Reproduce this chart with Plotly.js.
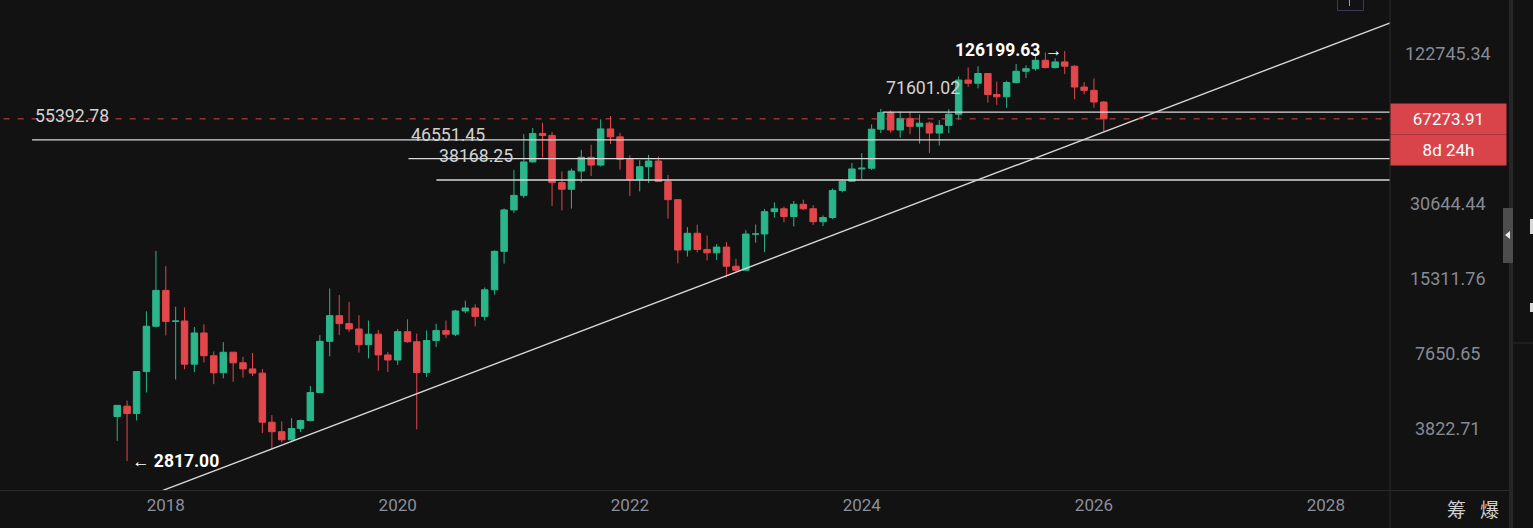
<!DOCTYPE html>
<html><head><meta charset="utf-8">
<script src="https://cdn.plot.ly/plotly-3.0.1.min.js"></script>
<style>html,body{margin:0;padding:0;background:#121212;overflow:hidden}#chart{width:1533px;height:528px}</style>
</head><body><div id="chart"></div>
<script>
// ---- data (BTC/USDT monthly) ----
const months = ['2017-08','2017-09','2017-10','2017-11','2017-12',
'2018-01','2018-02','2018-03','2018-04','2018-05','2018-06','2018-07','2018-08','2018-09','2018-10','2018-11','2018-12',
'2019-01','2019-02','2019-03','2019-04','2019-05','2019-06','2019-07','2019-08','2019-09','2019-10','2019-11','2019-12',
'2020-01','2020-02','2020-03','2020-04','2020-05','2020-06','2020-07','2020-08','2020-09','2020-10','2020-11','2020-12',
'2021-01','2021-02','2021-03','2021-04','2021-05','2021-06','2021-07','2021-08','2021-09','2021-10','2021-11','2021-12',
'2022-01','2022-02','2022-03','2022-04','2022-05','2022-06','2022-07','2022-08','2022-09','2022-10','2022-11','2022-12',
'2023-01','2023-02','2023-03','2023-04','2023-05','2023-06','2023-07','2023-08','2023-09','2023-10','2023-11','2023-12',
'2024-01','2024-02','2024-03','2024-04','2024-05','2024-06','2024-07','2024-08','2024-09','2024-10','2024-11','2024-12',
'2025-01','2025-02','2025-03','2025-04','2025-05','2025-06','2025-07','2025-08','2025-09','2025-10','2025-11','2025-12',
'2026-01','2026-02'];
const openP = [4261.48,4689.89,4378.49,6463.00,9837.00,
13715.65,10285.10,10325.64,6922.00,9246.01,7485.01,6391.08,7735.67,7011.21,6626.57,6369.52,4041.27,
3701.23,3434.10,3814.26,4102.44,5321.94,8555.00,10854.10,10080.53,9588.74,8289.97,9140.86,7540.63,
7195.24,9351.71,8523.61,6412.14,8620.00,9448.27,9138.08,11335.46,11649.51,10776.59,13791.00,19695.87,
28923.63,33092.97,45134.11,58739.46,57697.25,37253.82,35045.00,41461.84,47100.89,43820.01,61299.81,56950.56,
46216.93,38466.90,43160.00,45510.35,37630.80,31801.05,19942.21,23296.36,20048.44,19422.61,20490.74,17165.53,
16541.77,23125.13,23141.57,28465.36,29233.20,27210.36,30471.99,29232.26,25940.77,26962.57,34639.78,37723.97,
42283.58,42580.00,61130.99,71280.00,60672.01,67540.01,62772.01,64628.01,58974.00,63327.60,70215.20,96407.99,
93576.00,102429.56,84349.95,82550.01,94172.00,104591.88,107135.34,115764.07,108246.36,114048.94,109608.01,90360.01,
87648.21,78621.13];
const highP = [4745.42,4939.19,6470.00,11300.03,19798.68,
17176.24,11786.01,11710.00,9759.82,10020.00,7786.69,8491.77,7750.00,7410.00,7680.00,6615.15,4313.55,
4069.80,4198.00,4140.00,5656.74,9074.26,13970.00,13147.08,12325.00,10905.87,10370.00,9513.68,7750.00,
9578.00,10500.00,9188.00,9460.00,10067.00,10380.00,11444.00,12468.00,12050.85,14100.00,19863.16,29300.00,
41950.00,58352.80,61844.00,64854.00,59500.00,41330.00,42448.00,50500.00,52920.00,67000.00,69000.00,59053.55,
47990.00,45821.00,48189.84,47444.11,40023.77,31982.97,24668.00,25211.32,22799.00,21085.00,21480.65,18387.95,
23960.54,25250.00,29184.68,31000.00,29820.00,31431.94,31804.20,30244.00,27483.57,35280.00,38450.00,44700.00,
48969.48,63913.13,73777.00,72797.99,71979.00,71997.02,70079.99,65659.78,66498.00,73620.12,99588.01,108353.00,
109588.00,102500.01,95000.00,95758.04,111980.00,110530.17,123218.00,124474.00,117900.00,126199.63,110638.86,94588.99,
97939.54,79360.00];
const lowP = [3400.00,2817.00,4110.41,5325.01,9722.00,
9035.00,6000.01,6600.10,6430.00,7032.95,5750.00,6070.00,5880.00,6111.00,6205.00,3652.66,3156.26,
3349.92,3373.10,3689.12,4067.00,5316.20,7444.58,9060.00,9320.00,7710.00,7300.00,6515.00,6435.00,
6871.04,8445.00,3782.13,6150.11,8117.00,8833.00,8977.00,11093.00,9825.00,10374.00,13195.05,17572.33,
28130.00,32296.16,44950.53,47044.01,30000.00,28805.00,29278.00,37332.70,39600.00,43283.03,53256.64,42000.30,
32917.17,34322.28,37155.00,37578.20,26700.00,17622.00,18781.00,19520.00,18125.98,18190.00,15476.00,16256.30,
16499.01,21351.07,19549.09,26942.82,25811.46,24800.00,28861.90,25166.00,24901.00,26538.66,34055.15,37615.86,
38555.00,41884.28,59005.00,59191.60,56552.82,58402.00,53485.93,49000.00,52550.00,58946.00,66835.00,90500.00,
89256.69,78258.52,76606.00,74508.00,93377.00,98200.00,105100.19,107350.10,107255.00,102000.00,80600.00,84450.01,
74604.00,60000.00];
const closeP = [4724.89,4378.51,6463.00,9838.96,13716.36,
10285.10,10326.50,6923.91,9246.01,7485.01,6390.07,7730.93,7011.21,6626.57,6371.93,4041.32,3702.90,
3434.10,3813.69,4103.95,5320.81,8555.00,10854.10,10080.53,9587.47,8289.34,9140.85,7541.89,7195.23,
9352.89,8523.61,6410.44,8620.00,9448.27,9138.55,11335.46,11649.51,10776.59,13791.00,19695.87,28923.63,
33092.98,45135.66,58740.55,57694.27,37253.81,35045.00,41461.83,47100.89,43824.10,61299.80,56950.56,46216.93,
38466.90,43160.00,45510.34,37630.80,31801.04,19942.21,23293.32,20050.02,19422.61,20490.74,17163.64,16542.40,
23125.13,23141.57,28465.36,29233.21,27210.35,30472.00,29232.25,25940.78,26962.56,34639.77,37723.96,42283.58,
42580.00,61130.98,71280.01,60672.00,67540.01,62772.01,64628.00,58973.99,63327.59,70215.19,96407.99,93576.00,
102429.56,84349.94,82550.01,94172.00,104591.88,107135.33,115764.08,108246.35,114048.93,109608.01,90360.00,87648.22,
78621.12,67273.91];

const yearTicks = ['2018','2020','2022','2024','2026','2028'];
const priceTicks = [122745.34, 30644.44, 15311.76, 7650.65, 3822.71];
const levels = [55392.78, 46551.45, 38168.25, 71601.02];
const levelFrom = ['2016-11-06','2020-02-04','2020-05-02','2024-03-07'];
const lastPrice = 67273.91;
const countdown = '8d 24h';
const athMonth = '2025-10', athValue = 126199.63;
const lowMonth = '2017-09', lowValue = 2817.00;
const trendAnchorX = ['2018-12-01','2022-12-01'];
const trendAnchorY = [3156.26, 16256.30];
const sideLabels = ['筹','爆'];

// ---- layout geometry ----
const W = 1533, H = 528, ML = 0, MR = 143, MT = 0, MB = 38;
const PW = W - ML - MR, PH = H - MT - MB;
const xRange = ['2016-07-28','2028-07-21'];
const yRange = [Math.log10(2156), Math.log10(202470)];
const px = v => v / PW;             // pixel x -> paper
const py = v => (PH - v) / PH;      // pixel y -> paper

const GREEN = '#2bb58a', RED = '#e2474b';
const FONT = 'Roboto, "Noto Sans", sans-serif';

const dates = months.map(m => m + '-01');

// trend line through the two lows, extended
const t0 = Date.parse(trendAnchorX[0]), t1 = Date.parse(trendAnchorX[1]);
const l0 = Math.log10(trendAnchorY[0]), l1 = Math.log10(trendAnchorY[1]);
const trendAt = d => Math.pow(10, l0 + (Date.parse(d) - t0) / (t1 - t0) * (l1 - l0));
const trendX = ['2017-06-01', '2028-10-01'];
const trendY = trendX.map(trendAt);

const traces = [];
levels.forEach((lv, i) => {
  traces.push({type:'scatter', mode:'lines', x:[levelFrom[i], '2028-12-01'], y:[lv, lv],
    line:{color:'#d9d9d9', width:1.3}, hoverinfo:'skip', showlegend:false});
});
traces.push({type:'scatter', mode:'lines', x:trendX, y:trendY,
  line:{color:'#d6d6d6', width:1.4}, hoverinfo:'skip', showlegend:false});
traces.push({type:'scatter', mode:'lines', x:['2016-01-01','2028-12-01'], y:[lastPrice,lastPrice],
  line:{color:'#d9434a', width:1, dash:'6px,8px'}, hoverinfo:'skip', showlegend:false});
traces.push({type:'candlestick', x:dates, open:openP, high:highP, low:lowP, close:closeP,
  increasing:{line:{color:GREEN, width:1}, fillcolor:GREEN},
  decreasing:{line:{color:RED, width:1}, fillcolor:RED},
  whiskerwidth:0, hoverinfo:'skip', showlegend:false});

const annotations = [];
levels.forEach((lv, i) => annotations.push({
  x: levelFrom[i], y: Math.log10(lv), xref:'x', yref:'y', text: lv.toFixed(2),
  showarrow:false, xanchor:'left', yanchor:'middle', xshift:1, yshift:24,
  font:{family:FONT, size:17.7, color:'#d2d2d2'}
}));
annotations.push({x: athMonth + '-01', y: Math.log10(athValue), xref:'x', yref:'y',
  text:'<b>' + athValue.toFixed(2) + ' →</b>', showarrow:false, xanchor:'right', yanchor:'middle', xshift:-1, yshift:1,
  font:{family:FONT, size:17.5, color:'#ffffff'}});
annotations.push({x: lowMonth + '-01', y: Math.log10(lowValue), xref:'x', yref:'y',
  text:'<b>← ' + lowValue.toFixed(2) + '</b>', showarrow:false, xanchor:'left', yanchor:'middle', xshift:3,
  font:{family:FONT, size:17.5, color:'#ffffff'}});
priceTicks.forEach(v => annotations.push({
  x: px(1447.5), y: Math.log10(v), xref:'paper', yref:'y', text: v.toFixed(2),
  showarrow:false, xanchor:'center', yanchor:'middle',
  font:{family:FONT, size:18, color:'#868a95'}
}));
annotations.push({x: px(1448.5), y: Math.log10(lastPrice), xref:'paper', yref:'y', text: lastPrice.toFixed(2),
  showarrow:false, xanchor:'center', yanchor:'middle', bgcolor:'#d9434a', width:115, height:30, borderpad:0,
  font:{family:FONT, size:17, color:'#ffffff'}});
annotations.push({x: px(1448.5), y: Math.log10(lastPrice), xref:'paper', yref:'y', text: countdown, yshift:-31,
  showarrow:false, xanchor:'center', yanchor:'middle', bgcolor:'#d9434a', width:115, height:30, borderpad:0,
  font:{family:FONT, size:17, color:'#ffffff'}});
sideLabels.forEach((s, i) => annotations.push({
  x: px(1456.5 + 33 * i), y: py(508), xref:'paper', yref:'paper', text:s, showarrow:false,
  xanchor:'center', yanchor:'middle', font:{family:'"Noto Sans CJK SC", sans-serif', size:19, color:'#cfcfcf'}
}));

const shapes = [
  {type:'line', xref:'paper', yref:'paper', x0:px(1390), x1:px(1390), y0:py(528), y1:py(0), line:{color:'#2a2a2a', width:1}},
  {type:'line', xref:'paper', yref:'paper', x0:0, x1:px(1509), y0:py(490.5), y1:py(490.5), line:{color:'#2a2a2a', width:1}},
  {type:'rect', xref:'paper', yref:'paper', x0:px(1509), x1:px(1513), y0:py(528), y1:py(0), fillcolor:'#262626', line:{width:0}},
  {type:'rect', xref:'paper', yref:'paper', x0:px(1503), x1:px(1513), y0:py(263), y1:py(208), fillcolor:'#4d4d4d', line:{width:0}},
  {type:'path', xref:'paper', yref:'paper', path:`M ${px(1505)} ${py(235)} L ${px(1510)} ${py(231)} L ${px(1510)} ${py(239)} Z`, fillcolor:'#e8e8e8', line:{width:0}},
  {type:'line', xref:'paper', yref:'paper', x0:px(1513), x1:px(1533), y0:py(343), y1:py(343), line:{color:'#2a2a2a', width:1}},
  {type:'rect', xref:'paper', yref:'paper', x0:px(1530), x1:px(1533), y0:py(234), y1:py(219), fillcolor:'#d8d8d8', line:{width:0}},
  {type:'rect', xref:'paper', yref:'paper', x0:px(1530), x1:px(1533), y0:py(312), y1:py(303), fillcolor:'#d8d8d8', line:{width:0}},
  {type:'rect', xref:'paper', yref:'paper', x0:px(1337.5), x1:px(1363.5), y0:py(10.5), y1:py(-3), fillcolor:'rgba(0,0,0,0)', line:{color:'#3a3a58', width:1}},
  {type:'line', xref:'paper', yref:'paper', x0:px(1349.5), x1:px(1349.5), y0:py(6), y1:py(0), line:{color:'#9a9a9a', width:1}},
  {type:'line', xref:'paper', yref:'y', x0:px(1387), x1:px(1398), y0:Math.log10(lastPrice), y1:Math.log10(lastPrice), line:{color:'#f0f0f0', width:1.2}}
];

const layout = {
  width: W, height: H,
  margin:{l:ML, r:MR, t:MT, b:MB, pad:0},
  paper_bgcolor:'#121212', plot_bgcolor:'#121212',
  font:{family:FONT, color:'#868a95'},
  showlegend:false, hovermode:false,
  boxgap:0.27, boxgroupgap:0,
  xaxis:{type:'date', range:xRange, showgrid:false, zeroline:false, showline:false,
    tickvals: yearTicks.map(y => y + '-01-01'), ticktext: yearTicks, ticks:'', ticklabelstandoff:3,
    tickfont:{family:FONT, size:17, color:'#8b8f9b'}, rangeslider:{visible:false}, fixedrange:true},
  yaxis:{type:'log', range:yRange, side:'right', showgrid:false, zeroline:false, showline:false,
    showticklabels:false, ticks:'', fixedrange:true},
  annotations, shapes
};

Plotly.newPlot('chart', traces, layout, {displayModeBar:false, staticPlot:true});
</script>
</body></html>
